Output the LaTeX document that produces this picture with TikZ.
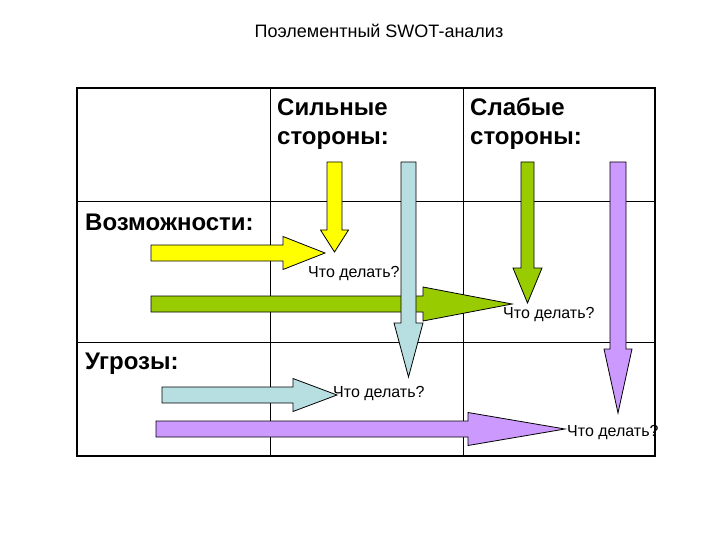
\documentclass[tikz,border=0pt]{standalone}
\usepackage{fontspec}
\setmainfont{Liberation Sans}
\definecolor{swotYellow}{HTML}{FFFF00}
\definecolor{swotGreen}{HTML}{99CC00}
\definecolor{swotBlue}{HTML}{B7DEE1}
\definecolor{swotPurple}{HTML}{CC99FF}
% horizontal block arrow: x-start, head-base x, tip x, centre y, half shaft, half head, colour
\newcommand\swotH[7]{%
  \filldraw[barrow,fill=#7] (#1,#4-#5) -- (#2,#4-#5) -- (#2,#4-#6) -- (#3,#4)
    -- (#2,#4+#6) -- (#2,#4+#5) -- (#1,#4+#5) -- cycle;}
% vertical block arrow: centre x, start y, head-base y, tip y, half shaft, half head, colour
\newcommand\swotV[7]{%
  \filldraw[barrow,fill=#7] (#1-#5,#2) -- (#1+#5,#2) -- (#1+#5,#3) -- (#1+#6,#3)
    -- (#1,#4) -- (#1-#6,#3) -- (#1-#5,#3) -- cycle;}
\begin{document}
\begin{tikzpicture}[x=1pt,y=-1pt,
  gridline/.style={line width=1pt},
  frameline/.style={line width=2pt},
  barrow/.style={draw=black,line width=0.8pt,line join=miter},
  rowlbl/.style={inner sep=0pt,font=\fontsize{24}{28}\selectfont\bfseries,anchor=base west},
  hdr/.style={inner sep=0pt,font=\fontsize{24}{29}\selectfont\bfseries,anchor=base west,align=left},
  ask/.style={inner sep=0pt,font=\fontsize{16}{18}\selectfont,anchor=base west}]
\useasboundingbox (0,0) rectangle (720,540);
% title
\node[inner sep=0pt,font=\fontsize{18}{20}\selectfont,anchor=base] (title) at (379,38) {Поэлементный SWOT-анализ};
% table
\draw[gridline] (270,88) -- (270,456);
\draw[gridline] (463,88) -- (463,456);
\draw[gridline] (77,202) -- (655,202);
\draw[gridline] (77,342) -- (655,342);
\draw[frameline] (77,88) rectangle (655,456);
% headers
\node[hdr] (strong) at (277,145) {Сильные\\стороны:};
\node[hdr] (weak) at (470,145) {Слабые\\стороны:};
\node[rowlbl] (opp) at (85,230) {Возможности:};
\node[rowlbl] (thr) at (85,369) {Угрозы:};
% horizontal arrows
\swotH{151}{283}{325}{253}{8}{16.5}{swotYellow}
\swotH{151}{423}{512}{304}{8}{17}{swotGreen}
\swotH{162}{293}{337}{395}{8}{16.5}{swotBlue}
\swotH{156}{468}{565}{429}{8}{16.5}{swotPurple}
% vertical arrows
\swotV{334.5}{162}{230}{252}{7.5}{14}{swotYellow}
\swotV{408.5}{162}{323}{377}{7.5}{14.5}{swotBlue}
\swotV{527.5}{162}{268}{303}{6.5}{14.5}{swotGreen}
\swotV{618}{162}{349}{413}{8}{14}{swotPurple}
% questions
\node[ask] (q1) at (308,277) {Что делать?};
\node[ask] (q2) at (503,318) {Что делать?};
\node[ask] (q3) at (333,397) {Что делать?};
\node[ask] (q4) at (567,436) {Что делать?};
\end{tikzpicture}
\end{document}
